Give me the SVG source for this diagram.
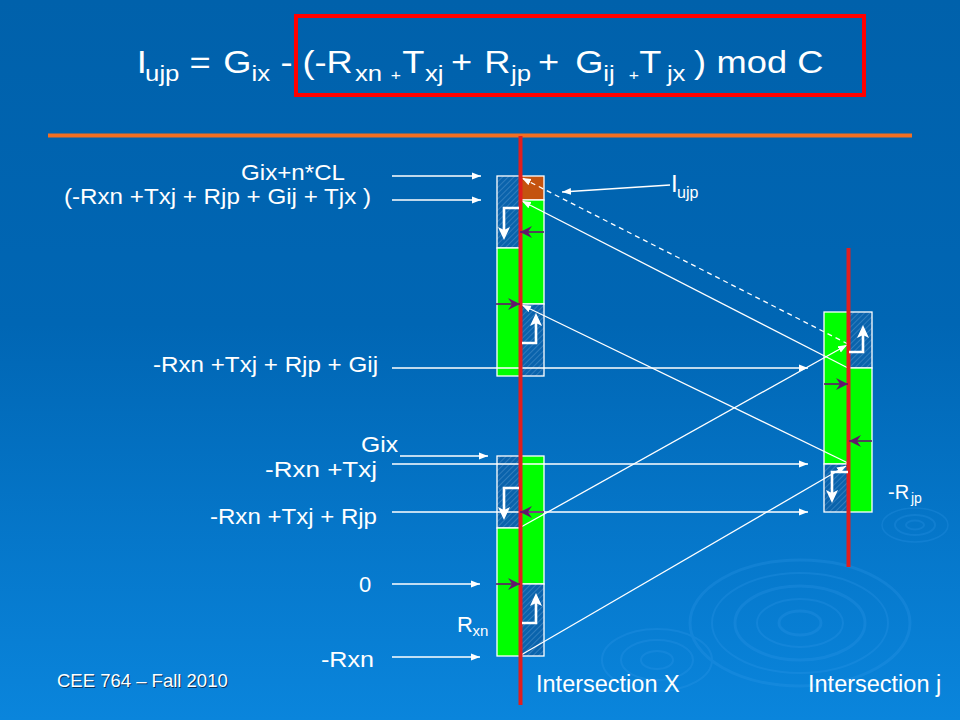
<svg xmlns="http://www.w3.org/2000/svg" width="960" height="720" viewBox="0 0 960 720">
<defs>
<linearGradient id="bg" x1="0" y1="0" x2="0" y2="1">
<stop offset="0" stop-color="#0061AB"/>
<stop offset="0.45" stop-color="#0066B4"/>
<stop offset="1" stop-color="#0A85DC"/>
</linearGradient>
<pattern id="hatch" patternUnits="userSpaceOnUse" width="4" height="4" patternTransform="rotate(45)">
<rect width="4" height="4" fill="#0A63AC"/>
<line x1="0.5" y1="0" x2="0.5" y2="4" stroke="#3A84C2" stroke-width="0.8"/>
</pattern>
<marker id="aw" markerUnits="userSpaceOnUse" markerWidth="10" markerHeight="8" refX="9" refY="4" orient="auto">
<path d="M0,0.5 L9,4 L0,7.5 z" fill="#fff"/>
</marker>
<marker id="ap" markerUnits="userSpaceOnUse" markerWidth="13" markerHeight="12" refX="12" refY="6" orient="auto">
<path d="M0,0 L12,6 L0,12 L4,6 z" fill="#64166C"/>
</marker>
<marker id="al" markerUnits="userSpaceOnUse" markerWidth="14" markerHeight="12" refX="7" refY="6" orient="auto">
<path d="M0,0 L13,6 L0,12 L3,6 z" fill="#fff"/>
</marker>
</defs>
<style>
text { font-family: "Liberation Sans", Arial, sans-serif; fill: #fff; }
.box { stroke: #fff; stroke-width: 1.3; }
.g { fill: #00FF00; }
.h { fill: url(#hatch); }
.o { fill: #C4530F; }
.axis { stroke: #E01E1E; stroke-width: 4; }
.w { stroke: #fff; stroke-width: 1.3; fill: none; marker-end: url(#aw); }
.p { stroke: #64166C; stroke-width: 1.6; fill: none; marker-end: url(#ap); }
.l { stroke: #fff; stroke-width: 2.6; fill: none; stroke-linejoin: miter; marker-end: url(#al); }
.rip { fill: none; stroke: #3A9EEE; }
</style>

<rect width="960" height="720" fill="url(#bg)"/>

<g id="ripples" opacity="0.22">
<ellipse class="rip" cx="800" cy="623" rx="110" ry="63" stroke-width="3"/>
<ellipse class="rip" cx="800" cy="623" rx="88" ry="50" stroke-width="2"/>
<ellipse class="rip" cx="800" cy="623" rx="65" ry="37" stroke-width="3"/>
<ellipse class="rip" cx="800" cy="623" rx="43" ry="24" stroke-width="2"/>
<ellipse class="rip" cx="800" cy="623" rx="21" ry="12" stroke-width="3"/>
<ellipse class="rip" cx="915" cy="525" rx="33" ry="17" stroke-width="1.5"/>
<ellipse class="rip" cx="915" cy="525" rx="20" ry="10" stroke-width="2"/>
<ellipse class="rip" cx="915" cy="525" rx="9" ry="4.5" stroke-width="2"/>
<ellipse class="rip" cx="657" cy="660" rx="55" ry="31" stroke-width="2"/>
<ellipse class="rip" cx="657" cy="660" rx="36" ry="20" stroke-width="2"/>
<ellipse class="rip" cx="657" cy="660" rx="16" ry="9" stroke-width="2"/>
</g>

<g id="title">
<rect x="296" y="16" width="568" height="79" fill="none" stroke="#FF0000" stroke-width="4"/>
<g transform="scale(1.17,1)">
<text font-size="31"><tspan x="116.8" y="73">I</tspan><tspan x="124" y="81.5" font-size="22">ujp</tspan><tspan x="162" y="73">=</tspan><tspan x="190.9" y="73">G</tspan><tspan x="214.9" y="81.5" font-size="22">ix</tspan><tspan x="239.7" y="73">-</tspan><tspan x="258.5" y="73">(-R</tspan><tspan x="303.4" y="81.5" font-size="22">xn</tspan><tspan x="333.9" y="80" font-size="15">+</tspan><tspan x="343.8" y="73">T</tspan><tspan x="363.2" y="81.5" font-size="22">xj</tspan><tspan x="385.5" y="73">+</tspan><tspan x="413.8" y="73">R</tspan><tspan x="436.8" y="81.5" font-size="22">jp</tspan><tspan x="459.8" y="73">+</tspan><tspan x="491.7" y="73">G</tspan><tspan x="515.7" y="81.5" font-size="22">ij</tspan><tspan x="537.4" y="80" font-size="15">+</tspan><tspan x="546.3" y="73">T</tspan><tspan x="570" y="81.5" font-size="22">jx</tspan><tspan x="593.2" y="73">)</tspan><tspan x="612.5" y="73">mod C</tspan></text>
</g>
</g>

<g id="rule">
<line x1="48" y1="135.5" x2="912" y2="135.5" stroke="#F36F21" stroke-width="4"/>
</g>

<g id="column-x-upper">
<rect class="box h" x="497" y="176" width="23.5" height="72"/>
<rect class="box g" x="497" y="248" width="23.5" height="128"/>
<rect class="box o" x="520.5" y="176" width="23.5" height="24"/>
<rect class="box g" x="520.5" y="200" width="23.5" height="104"/>
<rect class="box h" x="520.5" y="304" width="23.5" height="72"/>
</g>

<g id="column-x-lower">
<rect class="box h" x="497" y="456" width="23.5" height="72"/>
<rect class="box g" x="497" y="528" width="23.5" height="128"/>
<rect class="box g" x="520.5" y="456" width="23.5" height="128"/>
<rect class="box h" x="520.5" y="584" width="23.5" height="72"/>
</g>

<g id="column-j">
<rect class="box g" x="824" y="312" width="24.5" height="152"/>
<rect class="box h" x="824" y="464" width="24.5" height="48"/>
<rect class="box h" x="848.5" y="312" width="23.5" height="56"/>
<rect class="box g" x="848.5" y="368" width="23.5" height="144"/>
</g>

<g id="connectors">
<line class="w" x1="392" y1="176" x2="481" y2="176"/>
<line class="w" x1="392" y1="200" x2="481" y2="200"/>
<line class="w" x1="392" y1="368" x2="808" y2="368"/>
<line class="w" x1="400" y1="456" x2="488" y2="456"/>
<line class="w" x1="392" y1="464" x2="808" y2="464"/>
<line class="w" x1="392" y1="512" x2="808" y2="512"/>
<line class="w" x1="392" y1="584" x2="480" y2="584"/>
<line class="w" x1="392" y1="657" x2="480" y2="657"/>
<line class="w" x1="848" y1="344" x2="522" y2="178" stroke-dasharray="5 4"/>
<line class="w" x1="848" y1="368" x2="522" y2="201"/>
<line class="w" x1="848" y1="463" x2="522" y2="305"/>
<line class="w" x1="521" y1="527" x2="847" y2="345"/>
<line class="w" x1="521" y1="655" x2="846" y2="466"/>
<line class="w" x1="670" y1="185" x2="562" y2="192"/>
</g>

<g id="axis-x"><line class="axis" x1="520.5" y1="136" x2="520.5" y2="705"/></g>
<g id="axis-j"><line class="axis" x1="848.5" y1="248" x2="848.5" y2="567"/></g>

<g id="flow-arrows">
<line class="p" x1="544" y1="232" x2="520" y2="232"/>
<line class="p" x1="496" y1="304" x2="520" y2="304"/>
<line class="p" x1="544" y1="512" x2="520" y2="512"/>
<line class="p" x1="496" y1="584" x2="520" y2="584"/>
<line class="p" x1="824" y1="384" x2="848" y2="384"/>
<line class="p" x1="872" y1="441" x2="849" y2="441"/>
<path class="l" d="M519,208 H504 V234"/>
<path class="l" d="M522,343 H536 V319"/>
<path class="l" d="M519,488 H504 V514"/>
<path class="l" d="M522,623 H536 V599"/>
<path class="l" d="M849,352 H863 V331"/>
<path class="l" d="M848,472 H832 V497"/>
</g>

<g id="labels">
<text x="241" y="180" font-size="22" textLength="104" lengthAdjust="spacingAndGlyphs">Gix+n*CL</text>
<text x="64" y="204" font-size="22" textLength="307" lengthAdjust="spacingAndGlyphs">(-Rxn +Txj + Rjp + Gij + Tjx )</text>
<text x="153" y="371.5" font-size="22" textLength="225" lengthAdjust="spacingAndGlyphs">-Rxn +Txj + Rjp + Gij</text>
<text x="361" y="452" font-size="22" textLength="37" lengthAdjust="spacingAndGlyphs">Gix</text>
<text x="265" y="477" font-size="22" textLength="112" lengthAdjust="spacingAndGlyphs">-Rxn +Txj</text>
<text x="210" y="524" font-size="22" textLength="167" lengthAdjust="spacingAndGlyphs">-Rxn +Txj + Rjp</text>
<text x="359" y="592" font-size="22">0</text>
<text x="321" y="667" font-size="22" textLength="53" lengthAdjust="spacingAndGlyphs">-Rxn</text>
<text font-size="24"><tspan x="671" y="192">I</tspan><tspan x="677" y="198" font-size="16">ujp</tspan></text>
<text font-size="20"><tspan x="888" y="499">-R</tspan><tspan x="911" y="503" font-size="14">jp</tspan></text>
<text font-size="22"><tspan x="457" y="632">R</tspan><tspan x="472.5" y="636" font-size="15">xn</tspan></text>
<text x="536" y="692" font-size="23.5">Intersection X</text>
<text x="808" y="692" font-size="23.5">Intersection j</text>
<text x="58" y="688" font-size="18.5" style="fill:#08365F">CEE 764 – Fall 2010</text>
<text x="57" y="687" font-size="18.5">CEE 764 – Fall 2010</text>
</g>
</svg>
